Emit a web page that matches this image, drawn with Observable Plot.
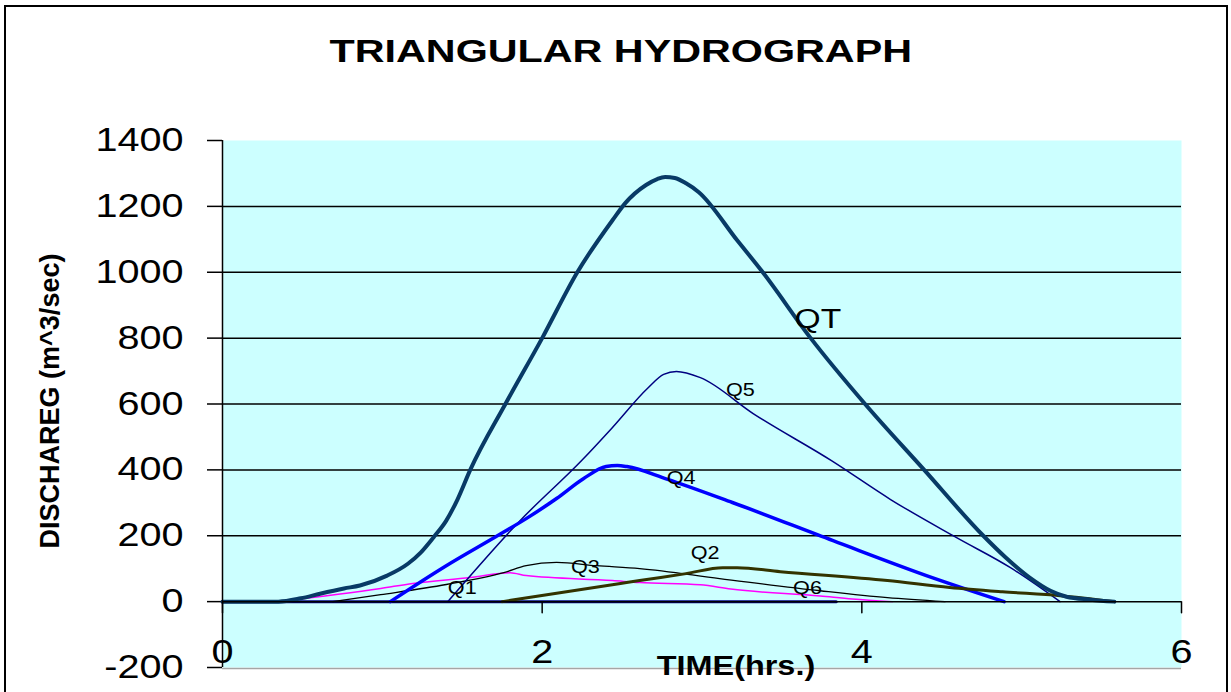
<!DOCTYPE html>
<html><head><meta charset="utf-8">
<script src="https://cdn.jsdelivr.net/npm/d3@7"></script>
<script src="https://cdn.jsdelivr.net/npm/@observablehq/plot@0.6"></script>
<style>
html,body{margin:0;padding:0;background:#fff;}
#wrap{position:relative;width:1231px;height:692px;overflow:hidden;font-family:"Liberation Sans",Arial,sans-serif;}
#title{position:absolute;left:5px;top:35px;width:1231px;text-align:center;line-height:32px;font-size:32px;font-weight:bold;color:#000;}
#title span{display:inline-block;transform:scaleX(1.29);}
#chart{position:absolute;left:0;top:100px;}
#border{position:absolute;left:4px;top:5px;width:1224px;height:720px;border:2px solid #000;box-sizing:border-box;pointer-events:none;}
</style></head><body>
<div id="wrap"><div id="title"><span>TRIANGULAR HYDROGRAPH</span></div><div id="chart"></div><div id="border"></div></div>
<script>
// axis ticks and labels
const xTicks = [0, 2, 4, 6];
const yTicks = [-200, 0, 200, 400, 600, 800, 1000, 1200, 1400];
const xLabel = "TIME(hrs.)";
const yLabel = "DISCHAREG (m^3/sec)";

// series (time in hrs, discharge in m^3/s)
const qtTime = [0, 0.35, 0.49, 0.61, 0.76, 0.86, 1.03, 1.16, 1.24, 1.32, 1.4, 1.47, 1.55, 1.77, 2.0, 2.22, 2.44, 2.52, 2.65, 2.72, 2.77, 2.83, 2.9, 2.98, 3.22, 3.38, 3.68, 4.02, 4.39, 4.76, 4.9, 5.05, 5.18, 5.28, 5.43, 5.58];
const qtFlow = [0, 0, 10, 24, 40, 49, 79, 115, 149, 195, 246, 310, 400, 600, 800, 1000, 1158, 1210, 1265, 1283, 1289, 1286, 1270, 1243, 1097, 1000, 800, 600, 400, 200, 134, 73, 33, 15, 6, 0];

const q1Time = [0, 3.84];
const q1Flow = [0, 0];

const q2Time = [1.75, 2.49, 2.61, 2.9, 3.13, 3.22, 3.49, 4.16, 4.55, 4.88, 5.24, 5.58];
const q2Flow = [0, 55, 64, 85, 103, 103, 91, 64, 43, 30, 18, 0];

const q3Time = [0.69, 0.99, 1.4, 1.76, 1.9, 2.09, 2.34, 2.61, 3.11, 3.74, 4.16, 4.52];
const q3Flow = [0, 21, 52, 88, 109, 119, 109, 100, 70, 33, 12, 0];

const q4Time = [1.05, 1.4, 1.72, 1.9, 2.09, 2.26, 2.4, 2.47, 2.53, 2.78, 3.19, 3.82, 4.44, 4.89];
const q4Flow = [0, 109, 200, 252, 313, 374, 410, 413, 410, 372, 301, 185, 73, 0];

const q5Time = [1.41, 1.86, 2.25, 2.44, 2.66, 2.76, 2.84, 2.99, 3.32, 3.81, 4.18, 4.59, 4.93, 5.24];
const q5Flow = [0, 245, 430, 529, 648, 690, 699, 680, 571, 428, 310, 195, 103, 0];

const q6Time = [0.35, 0.99, 1.19, 1.55, 1.8, 1.9, 2.44, 2.61, 2.99, 3.18, 3.74, 3.94, 4.19];
const q6Flow = [0, 40, 55, 73, 88, 79, 64, 58, 51, 38, 17, 8, 0];

// curve labels
const labelNames = ["QT", "Q5", "Q4", "Q2", "Q3", "Q1", "Q6"];
const labelTime = [3.725, 3.24, 2.87, 3.02, 2.27, 1.5, 3.66];
const labelFlow = [858, 641, 374, 146, 103, 40, 40];

// styles (kept apart from data)
const seriesStyle = [
  {name: "Q1", t: q1Time, q: q1Flow, stroke: "#000080", w: 3},
  {name: "Q6", t: q6Time, q: q6Flow, stroke: "#ff00ff", w: 1.5},
  {name: "Q3", t: q3Time, q: q3Flow, stroke: "#000000", w: 1.3},
  {name: "Q5", t: q5Time, q: q5Flow, stroke: "#000080", w: 1.5},
  {name: "Q4", t: q4Time, q: q4Flow, stroke: "#0000ff", w: 3.5},
  {name: "Q2", t: q2Time, q: q2Flow, stroke: "#333300", w: 3},
  {name: "QT", t: qtTime, q: qtFlow, stroke: "#083a66", w: 4}
];

const rows = seriesStyle.flatMap(s => s.t.map((t, i) => ({series: s.name, t, q: s.q[i]})));
const labels = labelNames.map((n, i) => ({name: n, t: labelTime[i], q: labelFlow[i]}));

const tickShape = {draw(context, l) { context.moveTo(0, 0); context.lineTo(0, -l); }};
const yMax = d3.max(yTicks), yMin = d3.min(yTicks);

const svg = Plot.plot({
  width: 1231, height: 592,
  marginLeft: 222, marginRight: 50, marginTop: 40, marginBottom: 25,
  style: {fontFamily: '"Liberation Sans", Arial, sans-serif', background: "transparent", overflow: "visible", color: "#000"},
  x: {domain: [d3.min(xTicks), d3.max(xTicks)]},
  y: {domain: [yMin, yMax]},
  marks: [
    Plot.frame({fill: "#ccffff", stroke: "none"}),
    Plot.ruleY(yTicks.filter(v => v > 0 && v < yMax), {stroke: "#000", strokeWidth: 1.5}),
    Plot.ruleY([yMin], {stroke: "#a6a6a6", strokeWidth: 1.5, dy: 1}),
    Plot.axisY({ticks: yTicks, tickFormat: d => String(d), tickSize: 15, tickPadding: 24, fontSize: 33, strokeWidth: 1.5, label: null}),
    Plot.axisX({ticks: xTicks, tickFormat: d => String(d), tickSize: 0, tickPadding: 3, dy: -31, fontSize: 33, label: null}),
    ...seriesStyle.map(s => Plot.line(rows.filter(r => r.series === s.name), {
      x: "t", y: "q", stroke: s.stroke, strokeWidth: s.w, curve: "monotone-x"
    })),
    Plot.ruleY([0], {stroke: "#000", strokeWidth: 1.5}),
    Plot.ruleX([0], {stroke: "#000", strokeWidth: 1.5}),
    Plot.vector(xTicks, {x: d => d, y: 0, length: 11, rotate: 180, anchor: "start", shape: tickShape, stroke: "#000", strokeWidth: 1.5}),
    Plot.text(labels.filter(d => d.name !== "QT"), {x: "t", y: "q", text: "name", fontSize: 18, fill: "#000"}),
    Plot.text(labels.filter(d => d.name === "QT"), {x: "t", y: "q", text: "name", fontSize: 28, fill: "#000"}),
    Plot.text([xLabel], {text: d => d, frameAnchor: "bottom", dx: 34, dy: -1, lineAnchor: "middle", fontSize: 27, fontWeight: "bold", fill: "#000"}),
    Plot.text([yLabel], {text: d => d, frameAnchor: "left", rotate: -90, dx: -172, dy: -3, lineAnchor: "middle", textAnchor: "middle", fontSize: 27, fontWeight: "bold", fill: "#000"})
  ]
});

// horizontal stretch of non-rotated text, as in the reference
d3.select(svg).selectAll("text").each(function() {
  const tr = this.getAttribute("transform") || "";
  if (tr.includes("rotate")) return;
  this.setAttribute("transform", `${tr} scale(1.2,1)`);
});

document.getElementById("chart").appendChild(svg);
</script></body></html>
